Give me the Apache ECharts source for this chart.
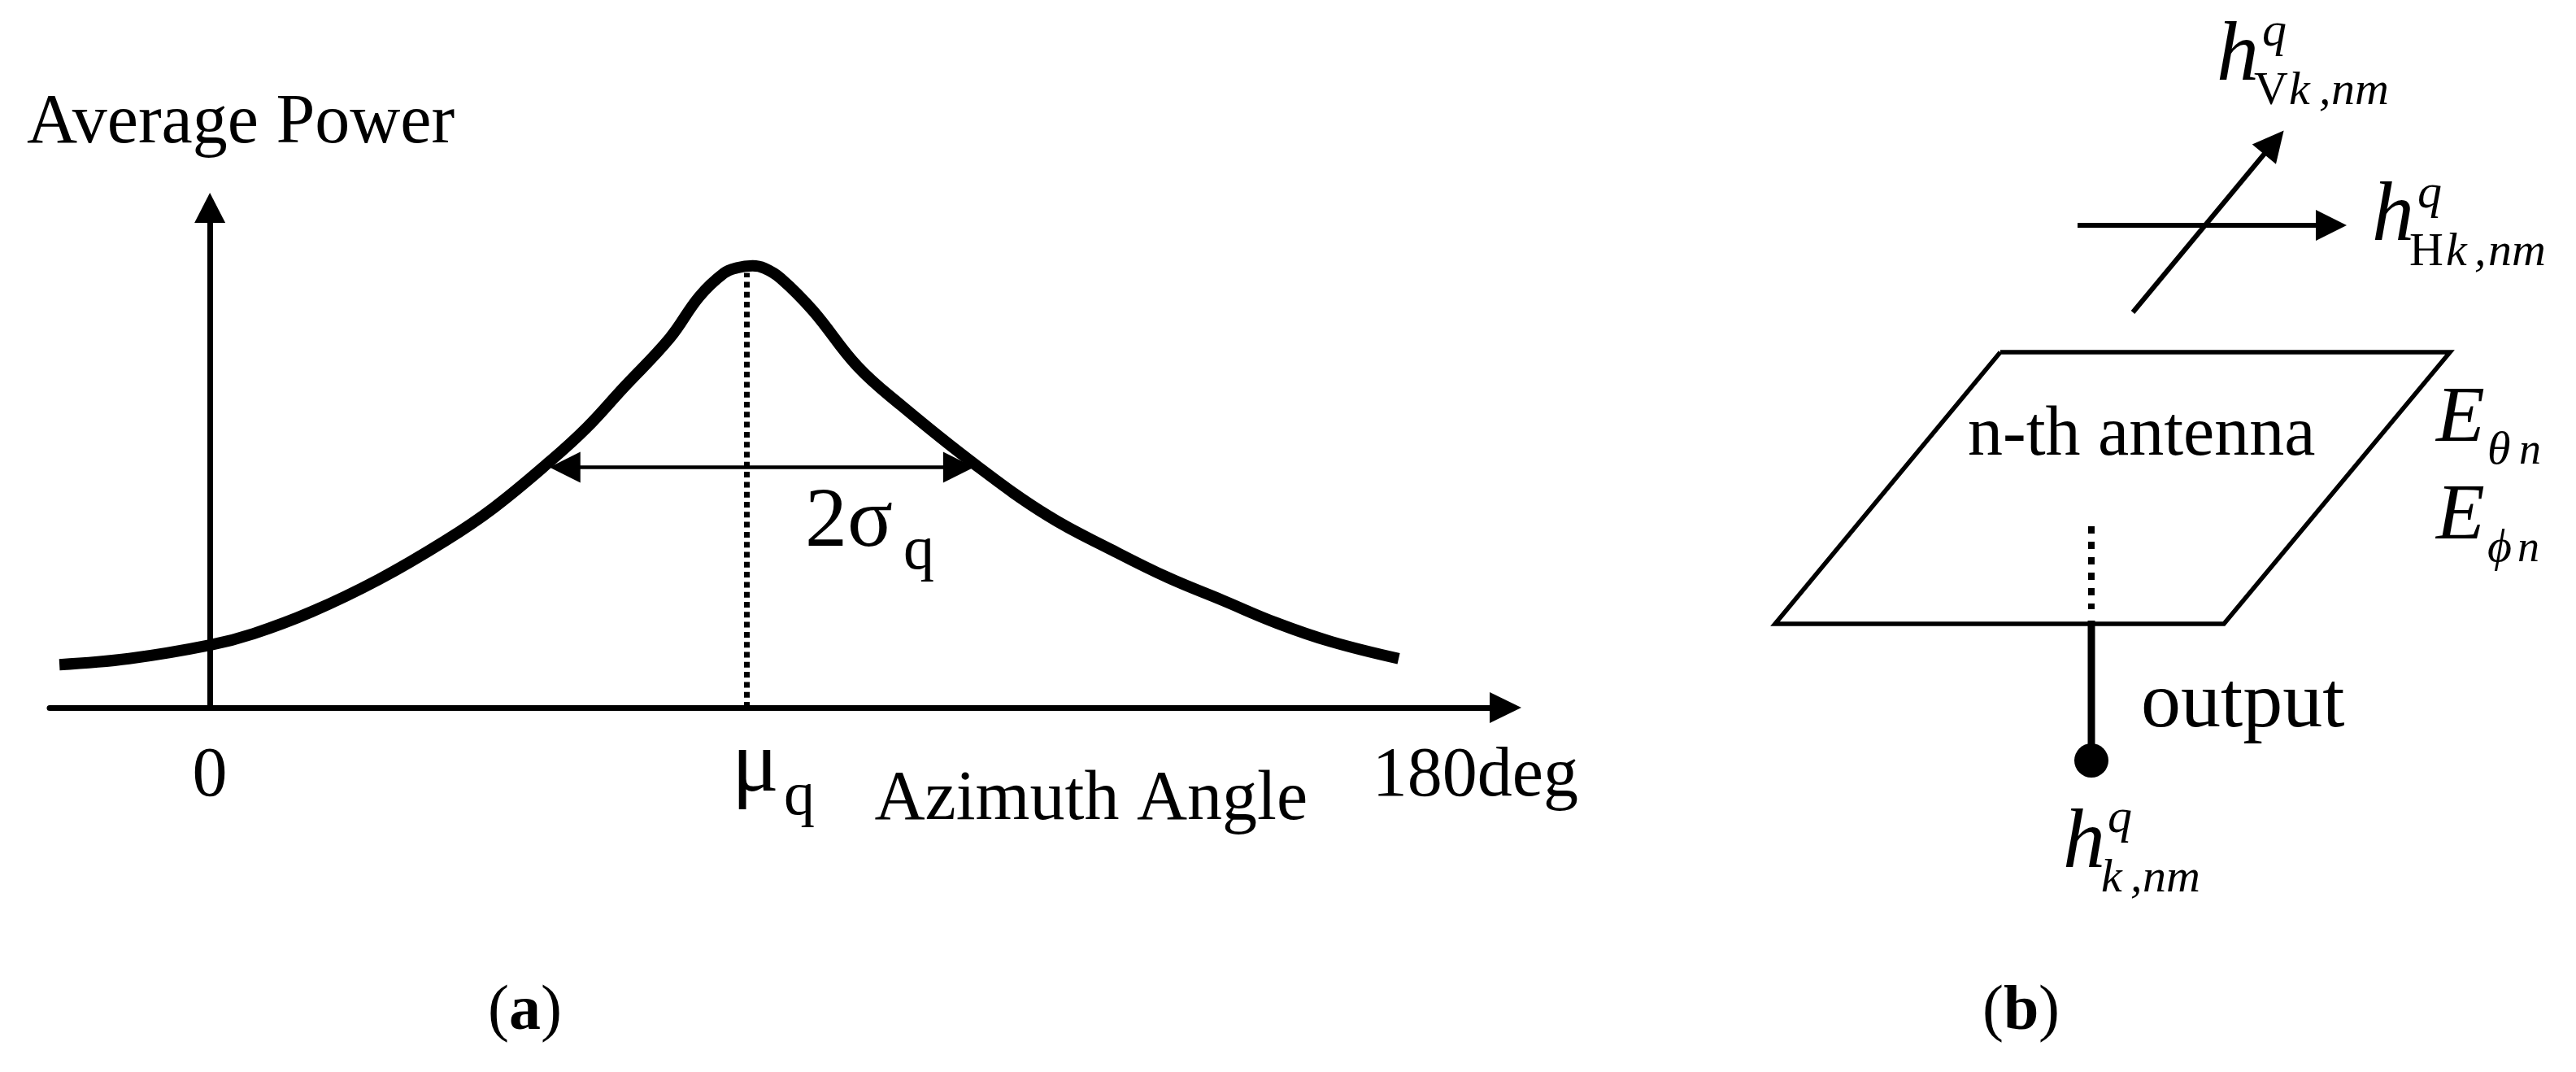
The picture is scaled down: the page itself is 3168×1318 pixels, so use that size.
<!DOCTYPE html>
<html>
<head>
<meta charset="utf-8">
<title>Average power vs azimuth angle and antenna model</title>
<style>
  html, body { margin: 0; padding: 0; background: #fff; }
  #chart { width: 3168px; height: 1318px; }
</style>
<script src="https://cdn.jsdelivr.net/npm/echarts@6/dist/echarts.min.js"></script>
</head>
<body>
<div id="chart"></div>
<script>
// (a) power profile: azimuth in degrees, power in axis units
var azimuth = [-21.4, -11.5, 0, 6.2, 14.5, 24.1, 33.5, 40.3, 48.4, 53.6, 58.7, 65.4, 69.6, 73.1, 75.0, 77.2, 78.9,
  81.2, 85.8, 92.1, 98.3, 108.7, 119.2, 128.5, 136.3, 144, 151.8, 159.5, 169.1];
var power = [8.6, 9.8, 12.5, 14.8, 19.2, 25.7, 33.4, 39.9, 49.3, 56.0, 63.8, 73.9, 82.2, 86.9, 88.0, 88.4, 87.9,
  85.9, 79.4, 68.3, 60.5, 48.8, 38.4, 31.4, 26.0, 21.5, 16.9, 13.2, 9.8];
var azimuthTicks = [0, 180];
var azimuthTickLabels = ["0", "180deg"];
var muAzimuth = 76.35;
var muTop = 87;
var spreadFrom = 50.5;
var spreadTo = 106.5;
var spreadPower = 48.1;

// (b) antenna sketch, in sketch units
var antennaOutline = [[360, 433], [913, 433], [635, 767], [83, 767], [360, 433]];
var feedDotted = [[472, 647], [472, 749]];
var feedSolid = [[472, 763], [472, 935]];
var feedEnd = [[472, 935]];
var arrowV = [[523, 384], [696.5, 175]];
var arrowH = [[455, 277], [767, 277]];

var SERIF = '"Liberation Serif", "Times New Roman", serif';

function label(text, x, baseline, size, extra) {
  extra = extra || {};
  return {
    type: "text",
    silent: true,
    x: x,
    // zrender centres on the em box, which sits about .34em above the baseline
    y: baseline - size * 0.3375,
    style: {
      text: text,
      fill: "#000",
      align: "left",
      verticalAlign: "middle",
      font: (extra.italic ? "italic " : "") + (extra.bold ? "bold " : "") + size + "px " + SERIF
    }
  };
}
var it = { italic: true };
var bold = { bold: true };

var texts = [
  label("μ", 900, 980, 108),
  label("q", 964, 1007, 76),
  label("2σ", 990, 679, 104),
  label("q", 1111, 705, 76),
  label("(", 600, 1271, 78),
  label("a", 626, 1271, 78, bold),
  label(")", 665, 1271, 78),
  label("n-th antenna", 2420, 565, 86),
  label("output", 2633, 900, 98),
  label("(", 2438, 1271, 78),
  label("b", 2464, 1271, 78, bold),
  label(")", 2507, 1271, 78),

  label("h", 2726, 106, 104, it),
  label("q", 2782, 60, 60, it),
  label("V", 2772, 132, 58),
  label("k", 2815, 132, 58, it),
  label(",", 2852, 132, 58, it),
  label("nm", 2867, 132, 58, it),

  label("h", 2917, 303, 104, it),
  label("q", 2973, 259, 60, it),
  label("H", 2963, 330, 58),
  label("k", 3008, 330, 58, it),
  label(",", 3043, 330, 58, it),
  label("nm", 3060, 330, 58, it),

  label("E", 2996, 549, 98, it),
  label("θ", 3059, 574, 58, it),
  label("n", 3098, 574, 54, it),
  label("E", 2996, 669, 98, it),
  label("ϕ", 3059, 694, 58, it),
  label("n", 3096, 694, 54, it),

  label("h", 2537, 1074, 104, it),
  label("q", 2592, 1027, 60, it),
  label("k", 2584, 1100, 58, it),
  label(",", 2620, 1100, 58, it),
  label("nm", 2635, 1100, 58, it)
];

function pairs(xs, ys) {
  return xs.map(function (x, i) { return [x, ys[i]]; });
}

function arrowLine(from, to, width, symbols, dash) {
  return {
    silent: true,
    animation: false,
    symbol: symbols,
    symbolSize: 38,
    precision: 3,
    label: { show: false },
    emphasis: { disabled: true },
    lineStyle: { color: "#000", width: width, type: dash || "solid", opacity: 1 },
    data: [[{ coord: from }, { coord: to }]]
  };
}

var chart = echarts.init(document.getElementById("chart"), null, { renderer: "canvas" });

chart.setOption({
  backgroundColor: "#fff",
  animation: false,
  textStyle: { fontFamily: SERIF, color: "#000" },
  grid: [
    { left: 61, top: 255.5, width: 1790.5, height: 614.5 },
    { left: 2100, top: 0, width: 1068, height: 1318 }
  ],
  xAxis: [
    {
      type: "value",
      min: -22.8,
      max: 184.3,
      splitLine: { show: false },
      axisLine: { lineStyle: { color: "#000", width: 7 }, symbol: ["none", "triangle"], symbolSize: [38, 39] },
      axisTick: { show: false },
      axisLabel: {
        customValues: azimuthTicks,
        formatter: function (v) { return azimuthTickLabels[azimuthTicks.indexOf(v)]; },
        color: "#000",
        fontFamily: SERIF,
        fontSize: 86,
        margin: 42,
        showMinLabel: true,
        showMaxLabel: true
      },
      name: "Azimuth Angle",
      nameLocation: "middle",
      nameGap: 71,
      nameMoveOverlap: false,
      nameTextStyle: { color: "#000", fontFamily: SERIF, fontSize: 86, padding: [0, 0, 0, 771], verticalAlign: "top" }
    },
    { type: "value", gridIndex: 1, min: 0, max: 1068, show: false }
  ],
  yAxis: [
    {
      type: "value",
      min: 0,
      max: 100,
      splitLine: { show: false },
      axisLine: { show: true, lineStyle: { color: "#000", width: 7 }, symbol: ["none", "triangle"], symbolSize: [38, 37] },
      axisTick: { show: false },
      axisLabel: { show: false },
      name: "Average Power",
      nameLocation: "end",
      nameGap: 60,
      nameTextStyle: { color: "#000", fontFamily: SERIF, fontSize: 86, align: "center", padding: [0, 0, 0, 76] }
    },
    { type: "value", gridIndex: 1, min: 0, max: 1318, inverse: true, show: false }
  ],
  series: [
    {
      name: "Average Power",
      type: "line",
      data: pairs(azimuth, power),
      smooth: 0.4,
      showSymbol: false,
      silent: true,
      lineStyle: { color: "#000", width: 14, cap: "butt", join: "round" },
      markLine: arrowLine([muAzimuth, 0], [muAzimuth, muTop], 7, ["none", "none"], [7, 5.3])
    },
    {
      name: "spread",
      type: "line",
      data: [],
      silent: true,
      markLine: arrowLine([spreadFrom, spreadPower], [spreadTo, spreadPower], 4.5, ["triangle", "triangle"])
    },
    {
      name: "antenna",
      type: "line",
      xAxisIndex: 1,
      yAxisIndex: 1,
      data: antennaOutline,
      showSymbol: false,
      silent: true,
      lineStyle: { color: "#000", width: 5.5, join: "miter" }
    },
    {
      name: "feed solid",
      type: "line",
      xAxisIndex: 1,
      yAxisIndex: 1,
      data: feedSolid,
      showSymbol: false,
      silent: true,
      lineStyle: { color: "#000", width: 9 }
    },
    {
      name: "feed dotted",
      type: "line",
      xAxisIndex: 1,
      yAxisIndex: 1,
      data: feedDotted,
      showSymbol: false,
      silent: true,
      lineStyle: { color: "#000", width: 8, type: [9, 10] }
    },
    {
      name: "feed end",
      type: "scatter",
      xAxisIndex: 1,
      yAxisIndex: 1,
      data: feedEnd,
      symbol: "circle",
      symbolSize: 42,
      silent: true,
      itemStyle: { color: "#000", opacity: 1 }
    },
    {
      name: "V polarisation",
      type: "line",
      xAxisIndex: 1,
      yAxisIndex: 1,
      data: [],
      silent: true,
      markLine: arrowLine(arrowV[0], arrowV[1], 6, ["none", "triangle"])
    },
    {
      name: "H polarisation",
      type: "line",
      xAxisIndex: 1,
      yAxisIndex: 1,
      data: [],
      silent: true,
      markLine: arrowLine(arrowH[0], arrowH[1], 6, ["none", "triangle"])
    }
  ],
  graphic: { elements: texts }
});
</script>
</body>
</html>
